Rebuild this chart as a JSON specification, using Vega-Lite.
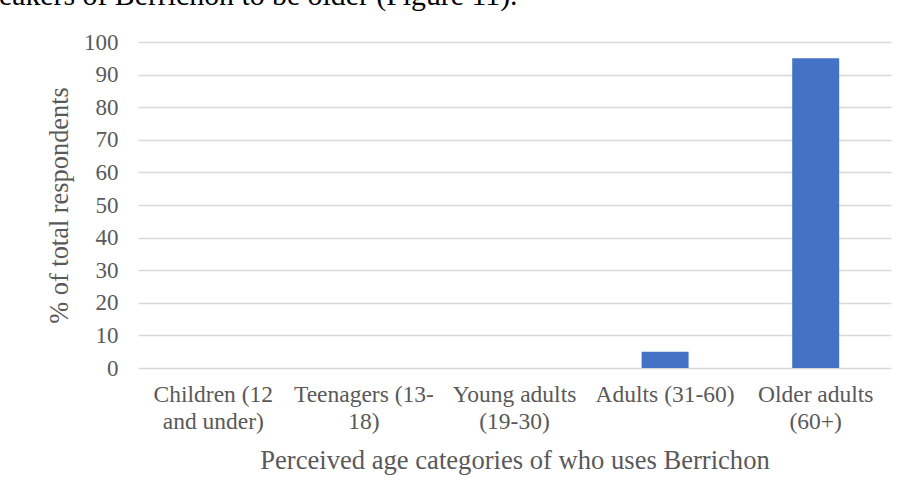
{
  "$schema": "https://vega.github.io/schema/vega-lite/v6.json",
  "autosize": "none",
  "width": 753,
  "height": 326,
  "padding": {"left": 138, "top": 42, "right": 16, "bottom": 133},
  "background": "white",
  "title": {
    "text": "eakers of Berrichon to be older (Figure 11).",
    "anchor": "start",
    "frame": "group",
    "orient": "top",
    "baseline": "alphabetic",
    "offset": -4,
    "dx": -139,
    "font": "Liberation Serif",
    "fontSize": 29.8,
    "fontWeight": "normal",
    "color": "#000000"
  },
  "data": {
    "values": [
      {"category": "Children (12 and under)", "percent": 0},
      {"category": "Teenagers (13-18)", "percent": 0},
      {"category": "Young adults (19-30)", "percent": 0},
      {"category": "Adults (31-60)", "percent": 5},
      {"category": "Older adults (60+)", "percent": 95}
    ]
  },
  "mark": {"type": "bar", "color": "#4472C4"},
  "encoding": {
    "x": {
      "field": "category",
      "type": "nominal",
      "sort": null,
      "scale": {"paddingInner": 0.688, "paddingOuter": 0.344},
      "axis": {
        "title": "Perceived age categories of who uses Berrichon",
        "labelAngle": 0,
        "domain": false,
        "ticks": false,
        "labelPadding": 14,
        "labelLineHeight": 27.5,
        "labelFontSize": 23.5,
        "labelLimit": 300,
        "labelExpr": "datum.value === 'Children (12 and under)' ? ['Children (12', 'and under)'] : datum.value === 'Teenagers (13-18)' ? ['Teenagers (13-', '18)'] : datum.value === 'Young adults (19-30)' ? ['Young adults', '(19-30)'] : datum.value === 'Older adults (60+)' ? ['Older adults', '(60+)'] : datum.value",
        "titleFontSize": 26.6,
        "titlePadding": 14
      }
    },
    "y": {
      "field": "percent",
      "type": "quantitative",
      "scale": {"domain": [0, 100]},
      "axis": {
        "title": "% of total respondents",
        "values": [0, 10, 20, 30, 40, 50, 60, 70, 80, 90, 100],
        "domain": false,
        "ticks": false,
        "labelPadding": 20,
        "labelFontSize": 23,
        "titleFontSize": 26.4,
        "titlePadding": 10
      }
    }
  },
  "config": {
    "view": {"stroke": null},
    "font": "Liberation Serif",
    "axis": {
      "labelFont": "Liberation Serif",
      "titleFont": "Liberation Serif",
      "labelColor": "#595959",
      "titleColor": "#595959",
      "titleFontWeight": "normal",
      "gridColor": "#D9D9D9",
      "gridWidth": 1.3
    },
    "axisX": {"grid": false},
    "axisY": {"grid": true}
  }
}
